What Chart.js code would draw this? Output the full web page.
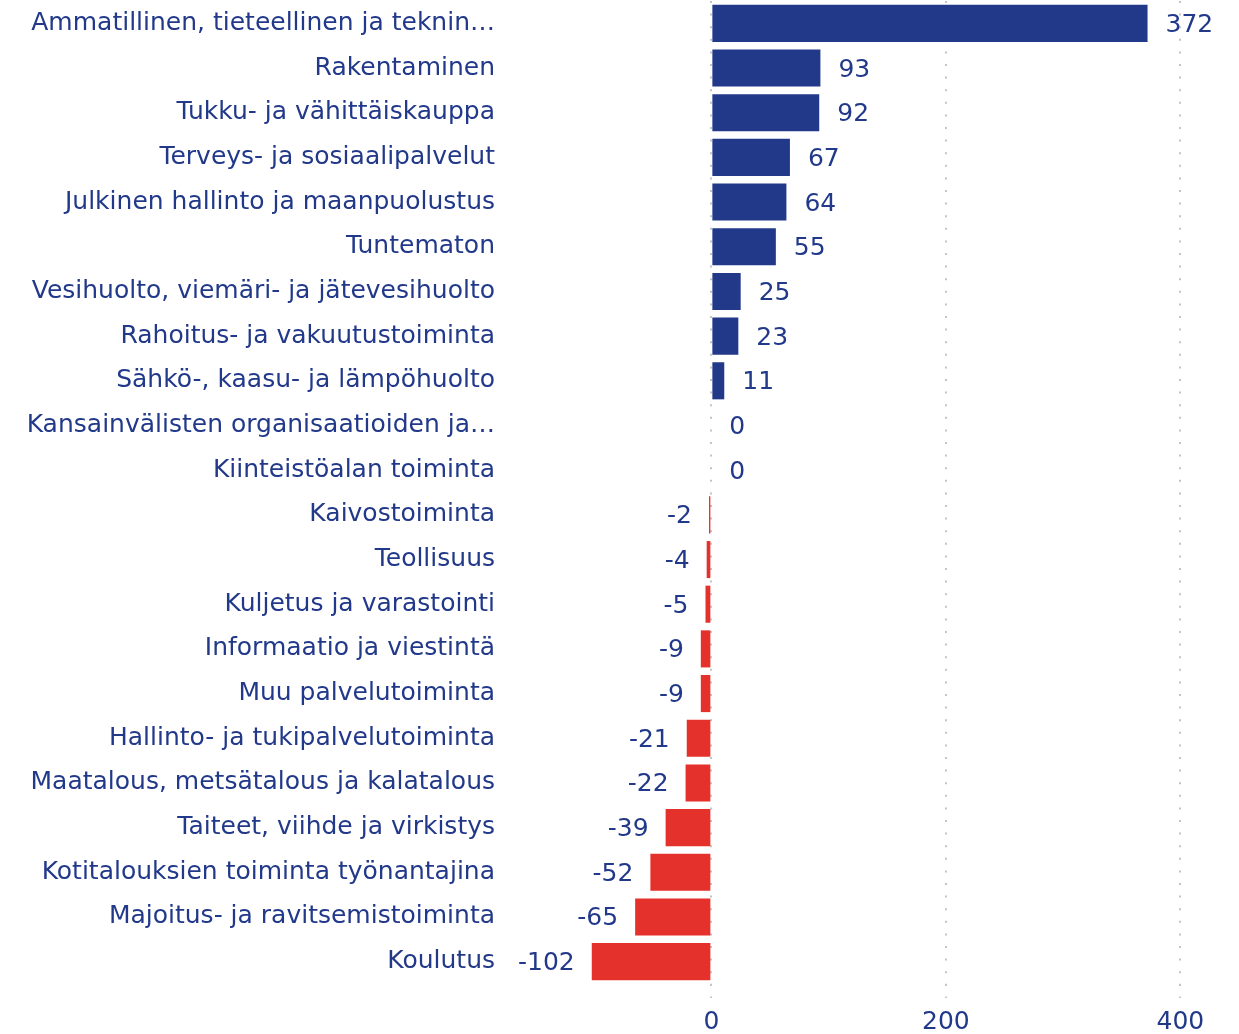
<!DOCTYPE html>
<html>
<head>
<meta charset="utf-8">
<script src="https://cdn.jsdelivr.net/npm/chart.js@4"></script>
<style>
  html, body { margin: 0; padding: 0; background: #fff; }
  canvas { display: block; }
</style>
</head>
<body>
<canvas id="toimialat" width="1239" height="1034"></canvas>
<script>
const categories = [
    'Ammatillinen, tieteellinen ja teknin…',
    'Rakentaminen',
    'Tukku- ja vähittäiskauppa',
    'Terveys- ja sosiaalipalvelut',
    'Julkinen hallinto ja maanpuolustus',
    'Tuntematon',
    'Vesihuolto, viemäri- ja jätevesihuolto',
    'Rahoitus- ja vakuutustoiminta',
    'Sähkö-, kaasu- ja lämpöhuolto',
    'Kansainvälisten organisaatioiden ja…',
    'Kiinteistöalan toiminta',
    'Kaivostoiminta',
    'Teollisuus',
    'Kuljetus ja varastointi',
    'Informaatio ja viestintä',
    'Muu palvelutoiminta',
    'Hallinto- ja tukipalvelutoiminta',
    'Maatalous, metsätalous ja kalatalous',
    'Taiteet, viihde ja virkistys',
    'Kotitalouksien toiminta työnantajina',
    'Majoitus- ja ravitsemistoiminta',
    'Koulutus'
];
const changes = [372, 93, 92, 67, 64, 55, 25, 23, 11, 0, 0, -2, -4, -5, -9, -9, -21, -22, -39, -52, -65, -102];
const xTicks = [0, 200, 400];

const blue = '#22398a';
const red = '#e5312b';
const font = {family: '"DejaVu Sans", Verdana, sans-serif', size: 25};

// value labels next to bar ends
const valueLabels = {
    id: 'valueLabels',
    afterDatasetsDraw(chart) {
        const ctx = chart.ctx;
        const meta = chart.getDatasetMeta(0);
        ctx.save();
        ctx.font = font.size + 'px ' + font.family;
        ctx.fillStyle = blue;
        ctx.textBaseline = 'middle';
        meta.data.forEach((bar, i) => {
            const v = changes[i];
            if (v < 0) {
                ctx.textAlign = 'right';
                ctx.fillText(String(v), bar.x - 17, bar.y + 2);
            } else {
                ctx.textAlign = 'left';
                ctx.fillText(String(v), bar.x + 18, bar.y + 2);
            }
        });
        ctx.restore();
    }
};

const ctx = document.getElementById('toimialat').getContext('2d');
const chart = new Chart(ctx, {
    type: 'bar',
    data: {
        labels: categories,
        datasets: [{
            data: changes,
            backgroundColor: changes.map(v => v < 0 ? red : blue),
            barPercentage: 0.83,
            categoryPercentage: 1
        }]
    },
    options: {
        indexAxis: 'y',
        responsive: false,
        animation: false,
        layout: {
            padding: {top: 1, right: 0, bottom: 0, left: 0}
        },
        scales: {
            x: {
                min: -176,
                max: 450,
                afterBuildTicks: scale => {
                    scale.ticks = xTicks.map(v => ({value: v}));
                },
                afterFit: scale => {
                    scale.height = 50;
                },
                border: {display: false, dash: [2, 10.6]},
                grid: {
                    color: '#c4c4c4',
                    lineWidth: 2,
                    drawTicks: true,
                    tickLength: 14,
                    tickColor: '#c4c4c4',
                    tickWidth: 2,
                    tickBorderDash: [2, 10.6]
                },
                ticks: {
                    color: blue,
                    font: font,
                    padding: 9,
                    maxRotation: 0
                }
            },
            y: {
                afterFit: scale => {
                    scale.width = 505;
                    scale.paddingTop = 0;
                    scale.paddingBottom = 0;
                },
                border: {display: false},
                grid: {display: false},
                ticks: {
                    color: blue,
                    font: font,
                    padding: 2,
                    autoSkip: false
                }
            }
        },
        plugins: {
            legend: {display: false},
            tooltip: {enabled: false}
        }
    },
    plugins: [valueLabels]
});
</script>
</body>
</html>
